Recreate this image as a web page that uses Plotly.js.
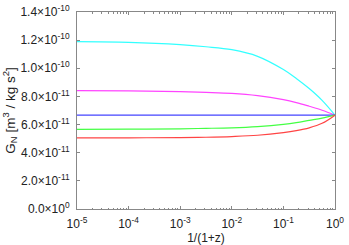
<!DOCTYPE html>
<html><head><meta charset="utf-8">
<script src="https://cdn.plot.ly/plotly-3.0.1.min.js"></script>
<style>html,body{margin:0;padding:0;background:#fff}#c{width:349px;height:245px}</style>
</head><body><div id="c"></div>
<script>
const aValues = [1e-5, 1e-4, 1e-3, 3.162e-3, 1e-2, 3.162e-2, 1e-1, 0.1778, 0.3162, 0.5623, 1];
const cyanG    = [1.189e-10, 1.184e-10, 1.168e-10, 1.153e-10, 1.132e-10, 1.085e-10, 0.991e-10, 0.928e-10, 0.856e-10, 0.772e-10, 0.667e-10];
const magentaG = [0.841e-10, 0.839e-10, 0.834e-10, 0.829e-10, 0.822e-10, 0.806e-10, 0.777e-10, 0.756e-10, 0.730e-10, 0.702e-10, 0.667e-10];
const blueG    = [0.667e-10, 0.667e-10, 0.667e-10, 0.667e-10, 0.667e-10, 0.667e-10, 0.667e-10, 0.667e-10, 0.667e-10, 0.667e-10, 0.667e-10];
const greenG   = [0.566e-10, 0.567e-10, 0.570e-10, 0.573e-10, 0.577e-10, 0.586e-10, 0.602e-10, 0.614e-10, 0.630e-10, 0.646e-10, 0.667e-10];
const redG     = [0.505e-10, 0.506e-10, 0.507e-10, 0.510e-10, 0.515e-10, 0.524e-10, 0.543e-10, 0.557e-10, 0.577e-10, 0.609e-10, 0.667e-10];
const seriesColors = ['#33ffff', '#ff44ff', '#4444ff', '#44ff44', '#ff4444'];
const yTickVals = [0, 2e-11, 4e-11, 6e-11, 8e-11, 1e-10, 1.2e-10, 1.4e-10];
const yTickText = ['0.0×10<sup>0</sup>', '2.0×10<sup>-11</sup>', '4.0×10<sup>-11</sup>', '6.0×10<sup>-11</sup>', '8.0×10<sup>-11</sup>', '1.0×10<sup>-10</sup>', '1.2×10<sup>-10</sup>', '1.4×10<sup>-10</sup>'];
const xTickVals = [1e-5, 1e-4, 1e-3, 1e-2, 1e-1, 1];
const xTickText = ['10<sup>-5</sup>', '10<sup>-4</sup>', '10<sup>-3</sup>', '10<sup>-2</sup>', '10<sup>-1</sup>', '10<sup>0</sup>'];

const minorX = [];
for (let d = -5; d < 0; d++) for (let m = 2; m <= 9; m++) minorX.push(m * Math.pow(10, d));

const series = [cyanG, magentaG, blueG, greenG, redG];
const traces = series.map((ys, i) => ({
  x: aValues, y: ys, type: 'scatter', mode: 'lines',
  line: {color: seriesColors[i], width: 1.2, shape: 'spline', smoothing: 1},
  hoverinfo: 'skip'
}));

const FONT = 'Liberation Sans, Arial, sans-serif';
const axisCommon = {
  showline: true, linecolor: '#888', linewidth: 1, mirror: 'ticks',
  ticks: 'inside', ticklen: 3, tickcolor: '#888', showgrid: false, zeroline: false,
  tickfont: {family: FONT, size: 12, color: '#222'}
};

const layout = {
  width: 349, height: 245,
  margin: {l: 77, r: 14, t: 12, b: 36},
  paper_bgcolor: '#fff', plot_bgcolor: '#fff', showlegend: false,
  font: {family: FONT, size: 11, color: '#222'},
  xaxis: Object.assign({}, axisCommon, {
    type: 'log', range: [-5, 0], tickmode: 'array', tickvals: xTickVals, ticktext: xTickText,
    minor: {tickmode: 'array', tickvals: minorX, ticks: 'inside', ticklen: 1.5, tickcolor: '#888'},
    title: {text: '1/(1+z)', font: {size: 12}, standoff: 0},
    ticklabelstandoff: 4
  }),
  yaxis: Object.assign({}, axisCommon, {
    range: [0, 1.4e-10], tickmode: 'array', tickvals: yTickVals, ticktext: yTickText,
    title: {text: 'G<sub>N</sub> [m<sup>3</sup> / kg s<sup>2</sup>]', font: {size: 13.5}, standoff: 2},
    ticklabelstandoff: 4
  })
};
Plotly.newPlot('c', traces, layout, {staticPlot: true, displayModeBar: false});
</script></body></html>
